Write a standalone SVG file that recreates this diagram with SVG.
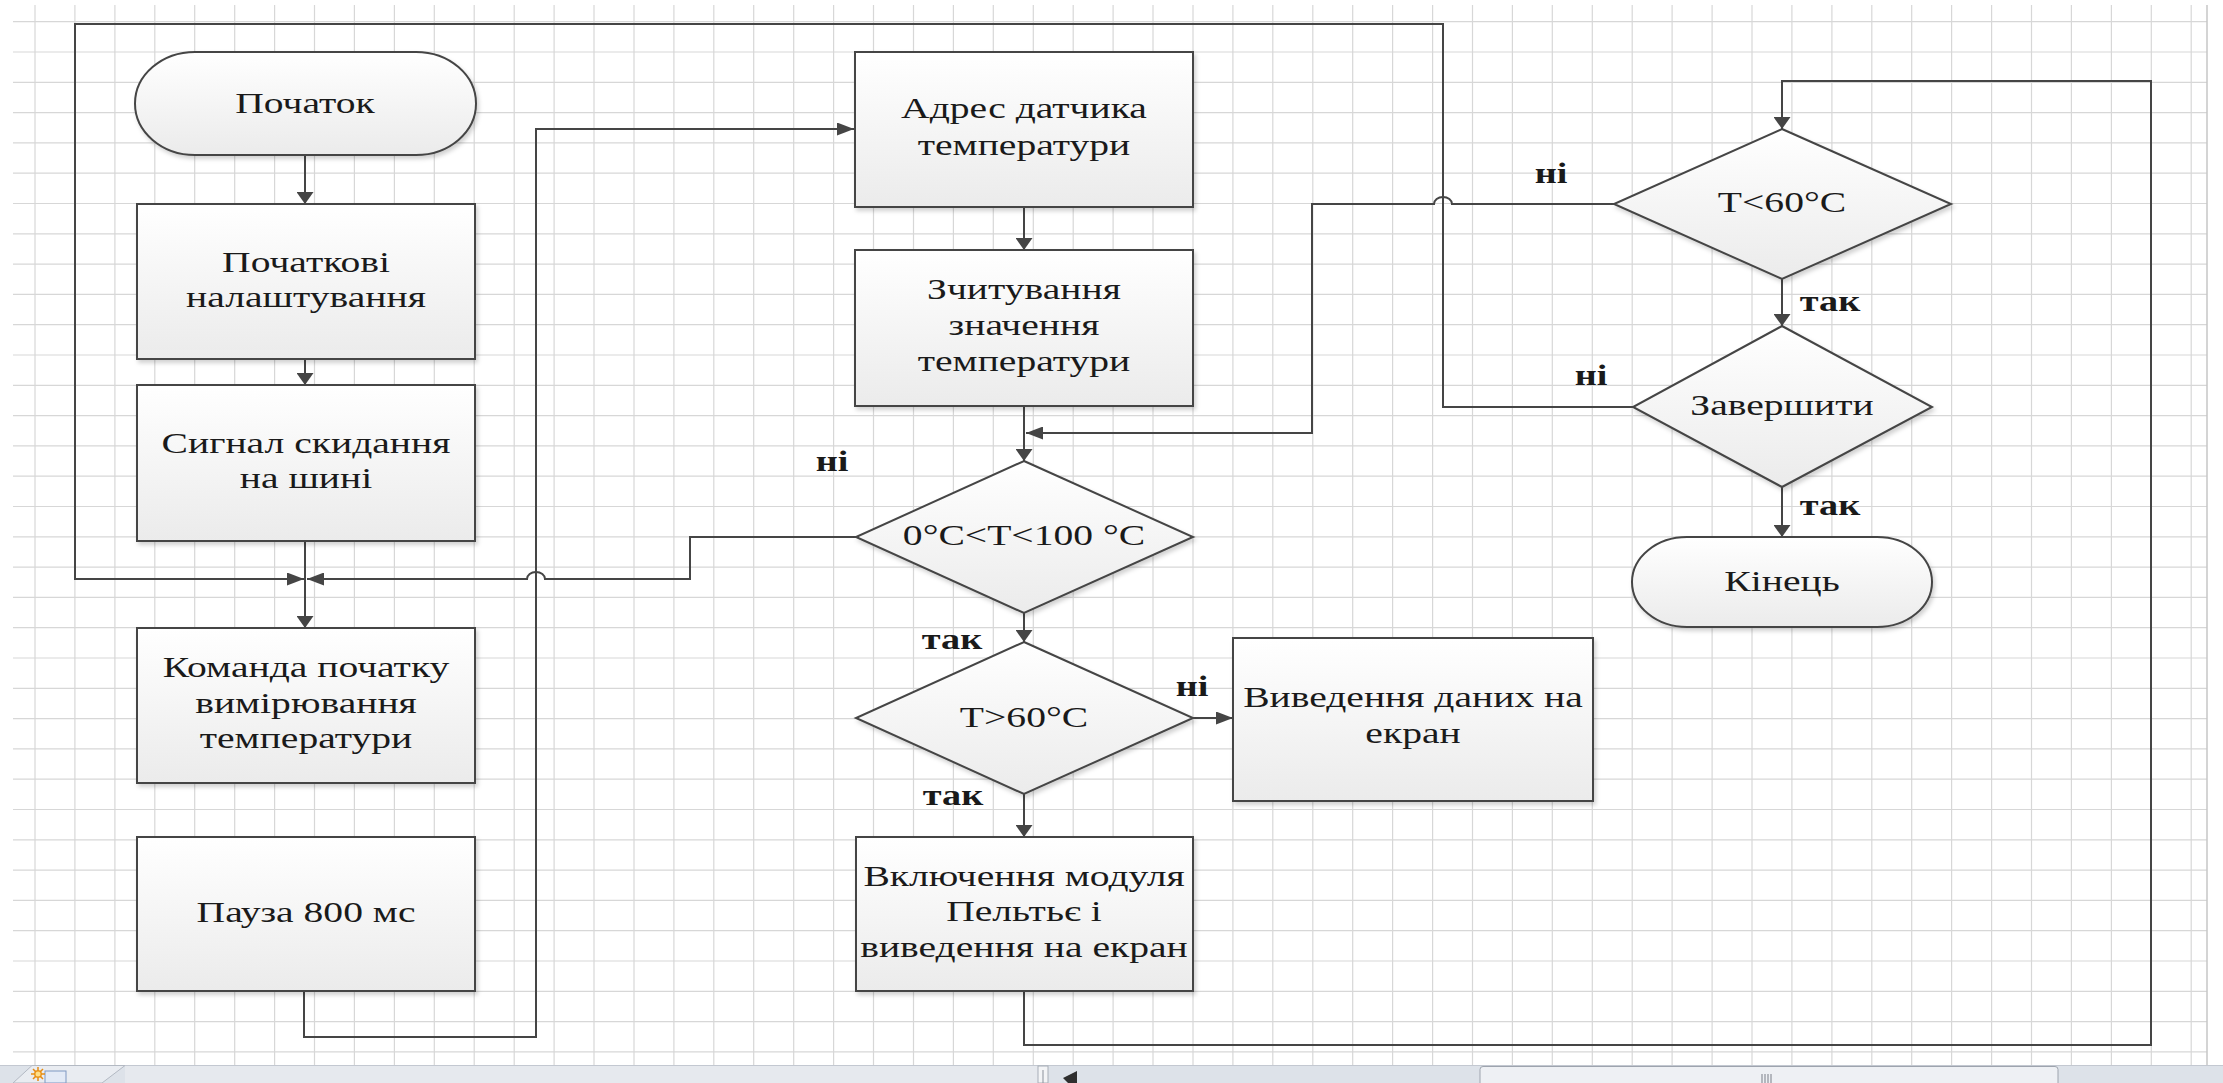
<svg xmlns="http://www.w3.org/2000/svg" width="2223" height="1083" viewBox="0 0 2223 1083">
<style>
.grid{fill:none;stroke:#d7d7d7;stroke-width:1.2}
.s{fill:url(#g);stroke:#454545;stroke-width:2;filter:url(#sh)}
.c{fill:none;stroke:#454545;stroke-width:2}
.av{marker-end:url(#av)}
.ah{marker-end:url(#ah)}
.t{font-family:"Liberation Serif","Times New Roman",serif;font-size:30px;fill:#1a1a1a;text-anchor:middle}
.l{font-family:"Liberation Serif","Times New Roman",serif;font-size:29px;font-weight:bold;fill:#1a1a1a;text-anchor:middle}
</style>
<defs>
<linearGradient id="g" x1="0" y1="0" x2="0" y2="1">
<stop offset="0" stop-color="#ffffff"/>
<stop offset="1" stop-color="#ebebeb"/>
</linearGradient>
<filter id="sh" x="-10%" y="-10%" width="125%" height="130%">
<feDropShadow dx="2" dy="3" stdDeviation="2" flood-color="#000" flood-opacity="0.18"/>
</filter>
<marker id="av" markerUnits="userSpaceOnUse" viewBox="0 0 12 17" markerWidth="12" markerHeight="17" refX="12" refY="8.5" orient="auto">
<path d="M0 0L12 8.5L0 17z" fill="#454545"/>
</marker>
<marker id="ah" markerUnits="userSpaceOnUse" viewBox="0 0 17 13" markerWidth="17" markerHeight="13" refX="17" refY="6.5" orient="auto">
<path d="M0 0L17 6.5L0 13z" fill="#454545"/>
</marker>
</defs>
<rect x="0" y="0" width="2223" height="1083" fill="#ffffff"/>
<g id="grid">
<path class="grid" d="M35 5V1065M74.9 5V1065M114.9 5V1065M154.8 5V1065M194.7 5V1065M234.7 5V1065M274.6 5V1065M314.5 5V1065M354.4 5V1065M394.4 5V1065M434.3 5V1065M474.2 5V1065M514.2 5V1065M554.1 5V1065M594 5V1065M634 5V1065M673.9 5V1065M713.8 5V1065M753.7 5V1065M793.7 5V1065M833.6 5V1065M873.5 5V1065M913.5 5V1065M953.4 5V1065M993.3 5V1065M1033.3 5V1065M1073.2 5V1065M1113.1 5V1065M1153 5V1065M1193 5V1065M1232.9 5V1065M1272.8 5V1065M1312.8 5V1065M1352.7 5V1065M1392.6 5V1065M1432.6 5V1065M1472.5 5V1065M1512.4 5V1065M1552.3 5V1065M1592.3 5V1065M1632.2 5V1065M1672.1 5V1065M1712.1 5V1065M1752 5V1065M1791.9 5V1065M1831.9 5V1065M1871.8 5V1065M1911.7 5V1065M1951.6 5V1065M1991.6 5V1065M2031.5 5V1065M2071.4 5V1065M2111.4 5V1065M2151.3 5V1065M2191.2 5V1065M13 21.7H2207M13 52H2207M13 82.3H2207M13 112.6H2207M13 142.9H2207M13 173.2H2207M13 203.5H2207M13 233.8H2207M13 264.1H2207M13 294.4H2207M13 324.7H2207M13 355H2207M13 385.3H2207M13 415.6H2207M13 445.9H2207M13 476.2H2207M13 506.5H2207M13 536.8H2207M13 567.1H2207M13 597.4H2207M13 627.7H2207M13 658H2207M13 688.3H2207M13 718.6H2207M13 748.9H2207M13 779.2H2207M13 809.5H2207M13 839.8H2207M13 870.1H2207M13 900.4H2207M13 930.7H2207M13 961H2207M13 991.3H2207M13 1021.6H2207M13 1051.9H2207"/>
<path d="M2207 5V1065" stroke="#c6c6c6" stroke-width="1.5"/>
</g>
<g id="connectors">
<path class="c av" d="M305 155V204"/>
<path class="c av" d="M305 359V385"/>
<path class="c av" d="M305 541V628"/>
<path class="c ah" d="M1634 407H1443V24H75V579H304"/>
<path class="c ah" d="M856 537H690V579H545A9 7 0 0 0 527 579H307"/>
<path class="c ah" d="M304 991V1037H536V129H854"/>
<path class="c av" d="M1024 207V250"/>
<path class="c av" d="M1024 406V461"/>
<path class="c ah" d="M1614 204H1452A9 7 0 0 0 1434 204H1312V433H1026"/>
<path class="c av" d="M1024 613V642"/>
<path class="c ah" d="M1193 718H1233"/>
<path class="c av" d="M1024 794V837"/>
<path class="c av" d="M1024 991V1045H2151V81H1782V129"/>
<path class="c av" d="M1782 279V326"/>
<path class="c av" d="M1782 487V537"/>
</g>
<g id="labels">
<text class="l" transform="matrix(1.32 0 0 1 832 0)" x="0" y="471">ні</text>
<text class="l" transform="matrix(1.32 0 0 1 952 0)" x="0" y="649">так</text>
<text class="l" transform="matrix(1.32 0 0 1 1192 0)" x="0" y="696">ні</text>
<text class="l" transform="matrix(1.32 0 0 1 953 0)" x="0" y="805">так</text>
<text class="l" transform="matrix(1.32 0 0 1 1551 0)" x="0" y="183">ні</text>
<text class="l" transform="matrix(1.32 0 0 1 1830 0)" x="0" y="311">так</text>
<text class="l" transform="matrix(1.32 0 0 1 1591 0)" x="0" y="385">ні</text>
<text class="l" transform="matrix(1.32 0 0 1 1830 0)" x="0" y="515">так</text>
</g>
<g id="n-start">
<rect class="s" x="135" y="52" width="341" height="103" rx="60" ry="51.5"/>
<text class="t" transform="matrix(1.32 0 0 1 305 0)" x="0" y="113">Початок</text>
</g>
<g id="n-init">
<rect class="s" x="137" y="204" width="338" height="155"/>
<text class="t" transform="matrix(1.32 0 0 1 306 0)"><tspan x="0" y="272">Початкові</tspan><tspan x="0" y="307">налаштування</tspan></text>
</g>
<g id="n-reset">
<rect class="s" x="137" y="385" width="338" height="156"/>
<text class="t" transform="matrix(1.32 0 0 1 306 0)"><tspan x="0" y="453">Сигнал скидання</tspan><tspan x="0" y="488">на шині</tspan></text>
</g>
<g id="n-cmd">
<rect class="s" x="137" y="628" width="338" height="155"/>
<text class="t" transform="matrix(1.32 0 0 1 306 0)"><tspan x="0" y="677">Команда початку</tspan><tspan x="0" y="713">вимірювання</tspan><tspan x="0" y="748">температури</tspan></text>
</g>
<g id="n-pause">
<rect class="s" x="137" y="837" width="338" height="154"/>
<text class="t" transform="matrix(1.32 0 0 1 306 0)" x="0" y="922">Пауза 800 мс</text>
</g>
<g id="n-addr">
<rect class="s" x="855" y="52" width="338" height="155"/>
<text class="t" transform="matrix(1.32 0 0 1 1024 0)"><tspan x="0" y="118">Адрес датчика</tspan><tspan x="0" y="155">температури</tspan></text>
</g>
<g id="n-read">
<rect class="s" x="855" y="250" width="338" height="156"/>
<text class="t" transform="matrix(1.32 0 0 1 1024 0)"><tspan x="0" y="299">Зчитування</tspan><tspan x="0" y="335">значення</tspan><tspan x="0" y="371">температури</tspan></text>
</g>
<g id="n-range">
<polygon class="s" points="1024,461 1193,537 1024,613 856,537"/>
<text class="t" transform="matrix(1.32 0 0 1 1024 0)" x="0" y="545">0°C&lt;T&lt;100 °C</text>
</g>
<g id="n-gt60">
<polygon class="s" points="1024,642 1193,718 1024,794 856,718"/>
<text class="t" transform="matrix(1.32 0 0 1 1024 0)" x="0" y="727">T&gt;60°C</text>
</g>
<g id="n-display">
<rect class="s" x="1233" y="638" width="360" height="163"/>
<text class="t" transform="matrix(1.32 0 0 1 1413 0)"><tspan x="0" y="707">Виведення даних на</tspan><tspan x="0" y="743">екран</tspan></text>
</g>
<g id="n-peltier">
<rect class="s" x="856" y="837" width="337" height="154"/>
<text class="t" transform="matrix(1.32 0 0 1 1024 0)"><tspan x="0" y="886">Включення модуля</tspan><tspan x="0" y="921.5">Пельтьє і</tspan><tspan x="0" y="957">виведення на екран</tspan></text>
</g>
<g id="n-lt60">
<polygon class="s" points="1782,129 1951,204 1782,279 1614,204"/>
<text class="t" transform="matrix(1.32 0 0 1 1782 0)" x="0" y="212">T&lt;60°C</text>
</g>
<g id="n-finish">
<polygon class="s" points="1782,326 1932,407 1782,487 1633,407"/>
<text class="t" transform="matrix(1.32 0 0 1 1782 0)" x="0" y="415">Завершити</text>
</g>
<g id="n-end">
<rect class="s" x="1632" y="537" width="300" height="90" rx="55" ry="45"/>
<text class="t" transform="matrix(1.32 0 0 1 1782 0)" x="0" y="591">Кінець</text>
</g>
<g id="statusbar">
<rect x="0" y="1065" width="2223" height="18" fill="#dde2e9"/>
<rect x="125" y="1066" width="913" height="17" fill="#e6e9ee"/>
<path d="M0 1065.5H2223" stroke="#c3c8d1" stroke-width="1"/>
<polygon points="13,1083 32,1065.5 125,1065.5 102,1083" fill="#e9ecf1" stroke="#b3b9c3" stroke-width="1"/>
<rect x="45" y="1071" width="21" height="12" fill="#e3eaf6" stroke="#7f97c2" stroke-width="1"/>
<circle cx="38" cy="1074" r="4" fill="#f2a22a"/>
<path d="M38 1067V1081M31 1074H45M33 1069L43 1079M43 1069L33 1079" stroke="#e58c14" stroke-width="1.5"/>
<circle cx="38" cy="1074" r="2.5" fill="#ffe08a"/>
<rect x="1038" y="1066" width="10" height="17" fill="#f3f4f6" stroke="#a8aeb7" stroke-width="1"/>
<path d="M1043 1070V1083" stroke="#8b919b" stroke-width="1"/>
<polygon points="1063,1078 1077,1071 1077,1083 1068,1083" fill="#2f2f2f"/>
<rect x="1480" y="1066.5" width="578" height="20" rx="3" fill="#eef0f4" stroke="#9ea4ae" stroke-width="1"/>
<path d="M1762 1074V1083M1765 1074V1083M1768 1074V1083M1771 1074V1083" stroke="#7a7f88" stroke-width="1"/>
</g>
</svg>
